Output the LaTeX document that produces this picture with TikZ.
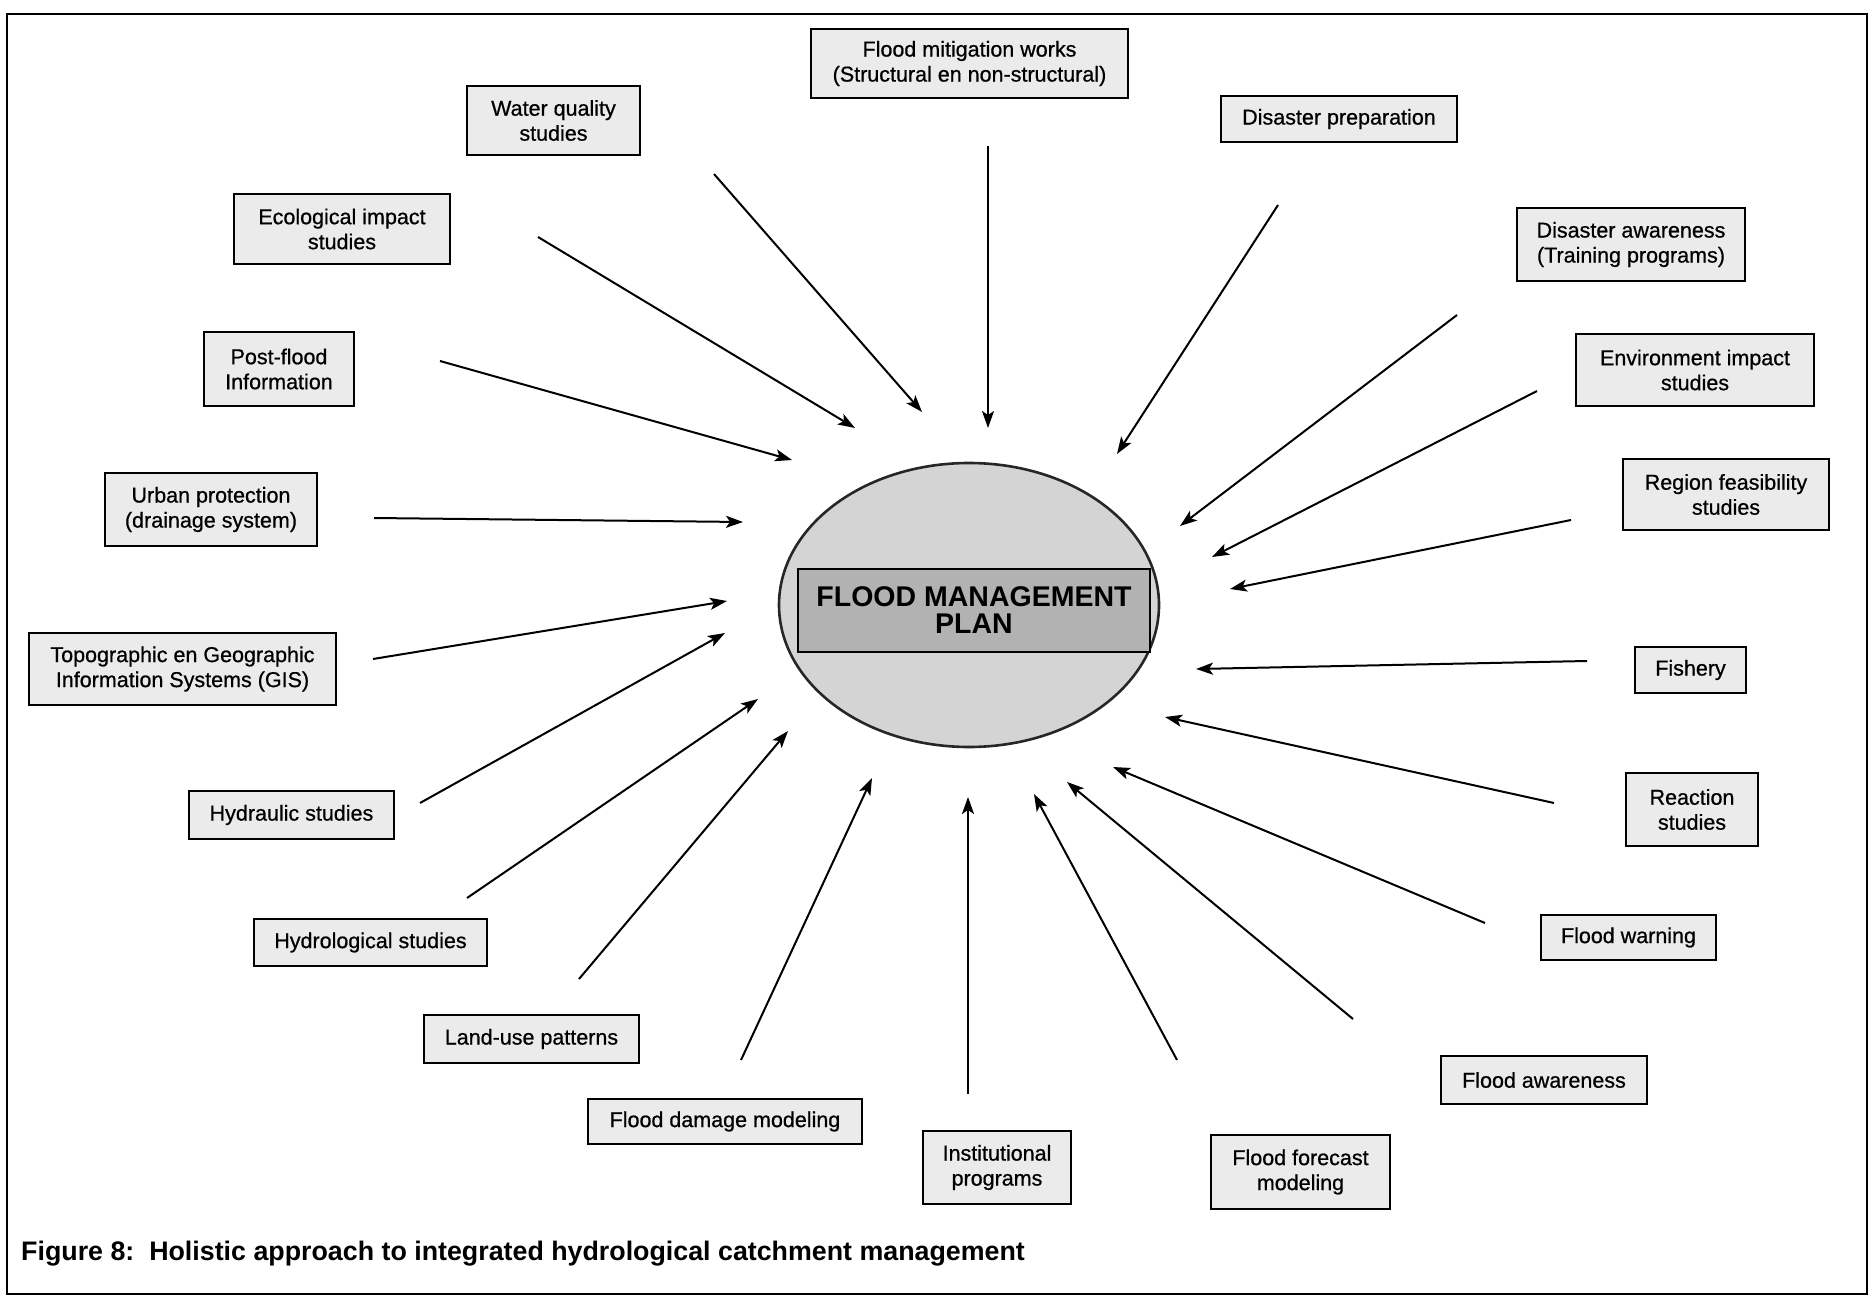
\documentclass[tikz,border=0pt]{standalone}
\usepackage{fontspec}
\setmainfont{Liberation Sans}
\newfontfamily\boxfont{Liberation Sans}[FakeBold=0.7]
\usetikzlibrary{shapes.geometric,arrows.meta}
\tikzset{
  topic/.style={draw=black, line width=2.4pt, fill=gray!16, align=center, inner sep=0pt,
    font=\boxfont\fontsize{21.5}{25}\selectfont},
  flow/.style={line width=2pt, -{Stealth[length=17pt,width=12pt,inset=4pt]}},
  hub/.style={ellipse, draw=black!85, line width=2.6pt, fill=gray!34, inner sep=0pt},
  plan/.style={draw=black, line width=2pt, fill=gray!60, align=center, inner sep=0pt,
    font=\fontsize{28.5}{27}\selectfont\bfseries},
}
\begin{document}
\begin{tikzpicture}[x=1pt,y=-1pt]
\useasboundingbox (0,0) rectangle (1873,1300);
\draw[line width=2.2pt] (7,14) rectangle (1867,1294);

% centre
\node[hub, minimum width=380, minimum height=284] (hub) at (969,605) {};
\node[plan, minimum width=352, minimum height=83] (plan) at (974,610) {FLOOD MANAGEMENT\\PLAN};

% boxes
\node[topic, minimum width=317, minimum height=69] (mit) at (969.5,63.5) {Flood mitigation works\\(Structural en non-structural)};
\node[topic, minimum width=173, minimum height=69] (wq) at (553.5,120.5) {Water quality\\studies};
\node[topic, minimum width=236, minimum height=46] (dp) at (1339,119) {Disaster preparation};
\node[topic, minimum width=216, minimum height=70] (eco) at (342,229) {Ecological impact\\studies};
\node[topic, minimum width=228, minimum height=73] (da) at (1631,244.5) {Disaster awareness\\(Training programs)};
\node[topic, minimum width=150, minimum height=74] (pf) at (279,369) {Post-flood\\Information};
\node[topic, minimum width=238, minimum height=72] (env) at (1695,370) {Environment impact\\studies};
\node[topic, minimum width=212, minimum height=73] (urb) at (211,509.5) {Urban protection\\(drainage system)};
\node[topic, minimum width=206, minimum height=71] (reg) at (1726,494.5) {Region feasibility\\studies};
\node[topic, minimum width=307, minimum height=72] (gis) at (182.5,669) {Topographic en Geographic\\Information Systems (GIS)};
\node[topic, minimum width=111, minimum height=46] (fish) at (1690.5,670) {Fishery};
\node[topic, minimum width=205, minimum height=48] (hyd) at (291.5,815) {Hydraulic studies};
\node[topic, minimum width=132, minimum height=73] (rea) at (1692,809.5) {Reaction\\studies};
\node[topic, minimum width=233, minimum height=47] (hydl) at (370.5,942.5) {Hydrological studies};
\node[topic, minimum width=175, minimum height=45] (fw) at (1628.5,937.5) {Flood warning};
\node[topic, minimum width=215, minimum height=48] (lu) at (531.5,1039) {Land-use patterns};
\node[topic, minimum width=206, minimum height=48] (fa) at (1544,1080) {Flood awareness};
\node[topic, minimum width=274, minimum height=45] (fd) at (725,1121.5) {Flood damage modeling};
\node[topic, minimum width=148, minimum height=73] (inst) at (997,1167.5) {Institutional\\programs};
\node[topic, minimum width=179, minimum height=74] (ff) at (1300.5,1172) {Flood forecast\\modeling};

% caption
\node[anchor=west, inner sep=0pt, font=\fontsize{26.8}{30}\selectfont\bfseries] (cap) at (21,1254)
  {Figure 8:\ \ Holistic approach to integrated hydrological catchment management};

% arrow end points
\coordinate (s1) at (988,146);   \coordinate (e1) at (988,428);
\coordinate (s2) at (714,174);   \coordinate (e2) at (922,412);
\coordinate (s3) at (1278,205);  \coordinate (e3) at (1117,454);
\coordinate (s4) at (538,237);   \coordinate (e4) at (855,428);
\coordinate (s5) at (1457,315);  \coordinate (e5) at (1180,526);
\coordinate (s6) at (440,361);   \coordinate (e6) at (792,460);
\coordinate (s7) at (1537,391);  \coordinate (e7) at (1212,557);
\coordinate (s8) at (374,518);   \coordinate (e8) at (743,522);
\coordinate (s9) at (1571,520);  \coordinate (e9) at (1230,589);
\coordinate (s10) at (373,659);  \coordinate (e10) at (727,601);
\coordinate (s11) at (420,803);  \coordinate (e11) at (725,633);
\coordinate (s12) at (1587,661); \coordinate (e12) at (1196,669);
\coordinate (s13) at (467,898);  \coordinate (e13) at (758,699);
\coordinate (s14) at (1554,803); \coordinate (e14) at (1165,717);
\coordinate (s15) at (579,979);  \coordinate (e15) at (788,731);
\coordinate (s16) at (1485,923); \coordinate (e16) at (1113,767);
\coordinate (s17) at (741,1060); \coordinate (e17) at (872,778);
\coordinate (s18) at (968,1094); \coordinate (e18) at (968,797);
\coordinate (s19) at (1353,1019);\coordinate (e19) at (1067,782);
\coordinate (s20) at (1177,1060);\coordinate (e20) at (1034,794);

\foreach \i in {1,...,20} { \draw[flow] (s\i) -- (e\i); }
\end{tikzpicture}
\end{document}
